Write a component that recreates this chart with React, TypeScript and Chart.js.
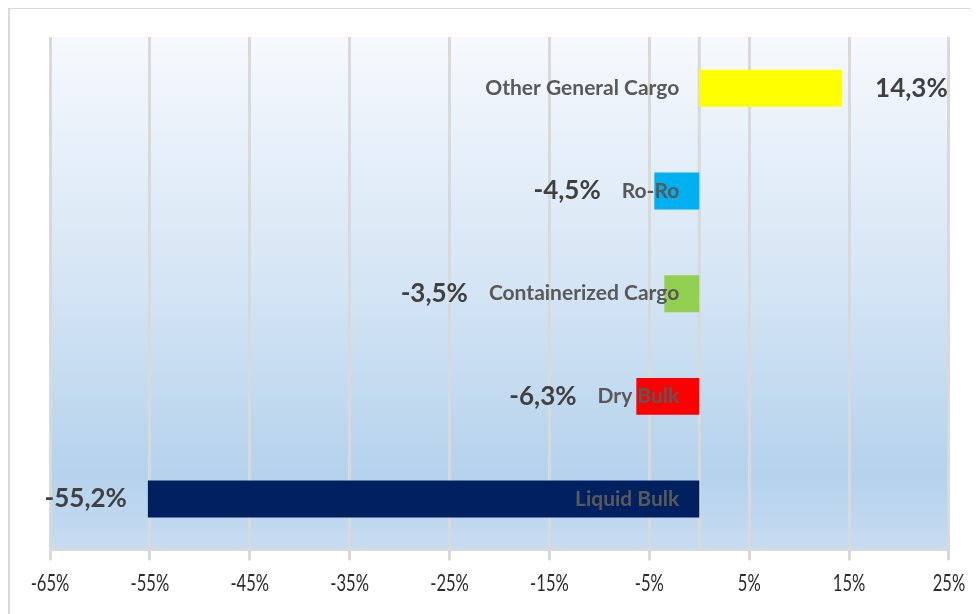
import React, { useEffect, useRef } from "react";
import { Chart, registerables } from "chart.js";

Chart.register(...registerables);

const categories = ["Other General Cargo", "Ro-Ro", "Containerized Cargo", "Dry Bulk", "Liquid Bulk"];
const values = [14.3, -4.5, -3.5, -6.3, -55.2];
const barColors = ["#FFFF00", "#00B0F0", "#92D050", "#FF0000", "#002060"];
const axisMin = -65;
const axisMax = 25;
const axisStep = 10;

const fmt = (v: number) => v.toFixed(1).replace(".", ",") + "%";

const decor = {
  id: "decor",
  beforeDraw(chart: any) {
    const { ctx, chartArea: a, width, height } = chart;
    ctx.save();
    ctx.fillStyle = "#FFFFFF";
    ctx.fillRect(0, 0, width, height);
    const g = ctx.createLinearGradient(0, a.top, 0, a.bottom);
    g.addColorStop(0, "#F6F9FD");
    g.addColorStop(0.5, "#D3E4F4");
    g.addColorStop(0.85, "#B5D2EC");
    g.addColorStop(1, "#C6DCF1");
    ctx.fillStyle = g;
    ctx.fillRect(a.left, a.top, a.right - a.left, a.bottom - a.top);
    ctx.strokeStyle = "#D9D9D9";
    ctx.lineWidth = 2;
    ctx.beginPath();
    ctx.moveTo(1, height + 5);
    ctx.lineTo(1, 0);
    ctx.lineTo(width + 5, 0);
    ctx.stroke();
    ctx.restore();
  },
  beforeDatasetsDraw(chart: any) {
    const { ctx, chartArea: a, scales } = chart;
    const x0 = scales.x.getPixelForValue(0);
    ctx.save();
    ctx.strokeStyle = "#D9D9D9";
    ctx.lineWidth = 3;
    ctx.beginPath();
    ctx.moveTo(x0, a.top);
    ctx.lineTo(x0, a.bottom);
    ctx.stroke();
    ctx.restore();
  },
  afterDatasetsDraw(chart: any) {
    const { ctx, scales, chartArea: a } = chart;
    const meta = chart.getDatasetMeta(0);
    const x0 = scales.x.getPixelForValue(0);
    ctx.save();
    ctx.textBaseline = "middle";
    meta.data.forEach((bar: any, i: number) => {
      const y = bar.y;
      ctx.font = "700 21px Lato";
      ctx.fillStyle = "#595959";
      ctx.textAlign = "right";
      const labelRight = x0 - 20;
      ctx.fillText(categories[i], labelRight, y);
      const labelLeft = labelRight - ctx.measureText(categories[i]).width;
      const v = values[i];
      ctx.font = "700 26px Lato";
      ctx.fillStyle = "#404040";
      if (v >= 0) {
        ctx.textAlign = "left";
        ctx.fillText(fmt(v), bar.x + 33, y);
      } else {
        ctx.textAlign = "right";
        const edge = Math.min(bar.x, labelLeft);
        ctx.fillText(fmt(v), edge - 21, y);
      }
    });
    // x tick labels (condensed)
    ctx.font = "400 23px Lato";
    ctx.fillStyle = "#2B2B2B";
    ctx.textAlign = "center";
    scales.x.ticks.forEach((t: any) => {
      const x = scales.x.getPixelForValue(t.value);
      ctx.save();
      ctx.translate(x, a.bottom + 33);
      ctx.scale(0.72, 1);
      ctx.fillText(t.value + "%", 0, 0);
      ctx.restore();
    });
    ctx.restore();
  },
};

export default function App() {
  const ref = useRef<HTMLCanvasElement>(null);
  useEffect(() => {
    if (!ref.current) return;
    const chart = new Chart(ref.current, {
      type: "bar",
      data: {
        labels: categories,
        datasets: [
          {
            data: values,
            backgroundColor: barColors,
            borderWidth: 0,
            categoryPercentage: 1,
            barPercentage: 0.36,
          },
        ],
      },
      options: {
        indexAxis: "y",
        animation: false,
        responsive: false,
        layout: { padding: { left: 42, right: 23, top: 29, bottom: 8 } },
        plugins: { legend: { display: false }, tooltip: { enabled: false } },
        scales: {
          x: {
            min: axisMin,
            max: axisMax,
            ticks: {
              stepSize: axisStep,
              callback: (v: any) => v + "%",
              color: "rgba(0,0,0,0)",
              font: { family: "'Liberation Sans'", size: 18 },
              padding: 12,
              maxRotation: 0,
              autoSkip: false,
            },
            grid: { color: "#D9D9D9", lineWidth: 3, tickLength: 10, drawTicks: true },
            border: { display: true, color: "#D9D9D9", width: 2 },
          },
          y: { display: false, grid: { display: false } },
        },
      },
      plugins: [decor],
    });
    return () => chart.destroy();
  }, []);
  return <canvas ref={ref} width={971} height={606} style={{ display: "block" }} />;
}
